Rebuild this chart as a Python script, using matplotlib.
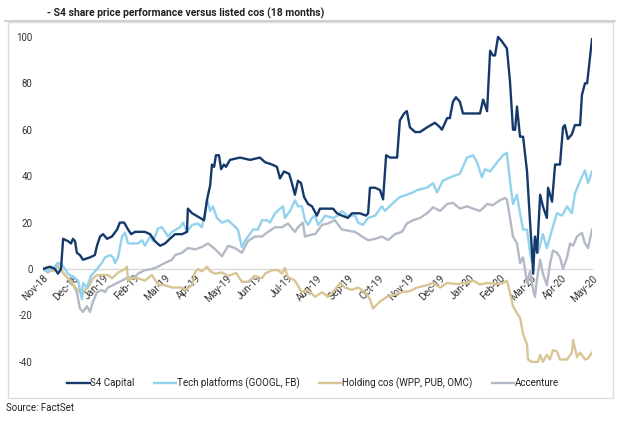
import matplotlib
matplotlib.use("Agg")
import matplotlib.pyplot as plt
from matplotlib.patches import Rectangle
from matplotlib.lines import Line2D

plt.rcParams['font.family'] = ['Roboto', 'DejaVu Sans']

title = "- S4 share price performance versus listed cos (18 months)"
source = "Source: FactSet"
month_labels = ["Nov-18", "Dec-18", "Jan-19", "Feb-19", "Mar-19", "Apr-19", "May-19",
                "Jun-19", "Jul-19", "Aug-19", "Sep-19", "Oct-19", "Nov-19", "Dec-19",
                "Jan-20", "Feb-20", "Mar-20", "Apr-20", "May-20"]
y_ticks = [-40, -20, 0, 20, 40, 60, 80, 100]
series_names = ["S4 Capital", "Tech platforms (GOOGL, FB)",
                "Holding cos (WPP, PUB, OMC)", "Accenture"]

s4_t = [0.00, 0.23, 0.39, 0.49, 0.59, 0.66, 0.82, 0.92, 0.98, 1.05, 1.11, 1.21, 1.31, 1.54, 1.70,
        1.77, 1.87, 1.97, 2.10, 2.26, 2.43, 2.52, 2.66, 2.79, 2.89, 3.02, 3.34, 3.51, 3.67, 3.84,
        4.00, 4.16, 4.33, 4.56, 4.72, 4.75, 4.89, 5.02, 5.15, 5.28, 5.38, 5.48, 5.54, 5.61, 5.67,
        5.77, 5.84, 5.93, 6.00, 6.13, 6.46, 6.79, 7.11, 7.28, 7.51, 7.67, 7.77, 7.90, 8.07, 8.16,
        8.26, 8.36, 8.46, 8.56, 8.69, 8.82, 8.98, 9.08, 9.25, 9.51, 9.64, 9.80, 10.00, 10.13, 10.39,
        10.59, 10.66, 10.72, 10.89, 11.05, 11.15, 11.25, 11.38, 11.61, 11.70, 11.84, 11.93, 12.03,
        12.20, 12.36, 12.59, 12.85, 13.02, 13.08, 13.25, 13.34, 13.44, 13.54, 13.67, 13.77, 14.00,
        14.33, 14.43, 14.56, 14.66, 14.75, 14.82, 14.92, 15.05, 15.21, 15.31, 15.41, 15.48, 15.54,
        15.64, 15.74, 15.87, 15.97, 16.03, 16.07, 16.13, 16.20, 16.30, 16.39, 16.52, 16.56, 16.69,
        16.79, 16.95, 17.05, 17.11, 17.21, 17.34, 17.44, 17.61, 17.67, 17.77, 17.84, 18.00]
s4_v = [0, 1, 0, -2, 0, 13, 12, 11, 13, 12, 7, 6, 4, 5, 6,
        10, 14, 15, 13, 14, 17, 20, 20, 17, 15, 16, 16, 15, 12, 10,
        11, 13, 15, 15, 16, 26, 24, 23, 22, 21, 30, 36, 45, 44, 49,
        49, 43, 45, 44, 47, 48, 47, 48, 46, 45, 44, 39, 42, 41, 37,
        32, 38, 37, 31, 28, 27, 23, 26, 26, 26, 24, 23, 22, 24, 24,
        23, 24, 35, 35, 34, 30, 49, 48, 48, 64, 67, 68, 61,
        59, 59, 61, 63, 61, 60, 65, 65, 72, 74, 72, 67, 67,
        67, 73, 68, 94, 92, 92, 100, 98, 95, 81, 60, 60, 70,
        57, 57, 42, 20, 8, -2, 14, 7, 32, 27, 22, 35, 29,
        45, 45, 61, 62, 56, 58, 62, 62, 75, 80, 80, 99]

tech_t = [0.00, 0.16, 0.39, 0.49, 0.62, 0.82, 1.15, 1.28, 1.31, 1.44, 1.57, 1.77, 1.93, 2.03, 2.20,
          2.30, 2.36, 2.46, 2.59, 2.69, 2.79, 3.11, 3.25, 3.34, 3.51, 3.61, 3.77, 3.90, 4.00, 4.10,
          4.23, 4.49, 4.59, 4.72, 4.89, 5.08, 5.21, 5.31, 5.38, 5.48, 5.57, 5.70, 5.87, 6.07, 6.23,
          6.39, 6.52, 6.62, 6.72, 6.89, 7.05, 7.18, 7.34, 7.44, 7.61, 7.77, 7.87, 7.93, 8.10, 8.26,
          8.36, 8.49, 8.59, 8.69, 8.82, 8.92, 9.02, 9.15, 9.25, 9.51, 9.67, 9.80, 9.97, 10.23, 10.33,
          10.49, 10.66, 10.89, 11.05, 11.11, 11.21, 11.44, 11.70, 11.93, 12.13, 12.26, 12.59, 12.79,
          12.92, 13.11, 13.44, 13.67, 13.90, 14.10, 14.23, 14.39, 14.49, 14.66, 14.89, 15.08, 15.21,
          15.31, 15.41, 15.54, 15.64, 15.74, 15.87, 15.97, 16.03, 16.13, 16.23, 16.39, 16.52, 16.69,
          16.85, 17.02, 17.18, 17.34, 17.44, 17.61, 17.77, 17.87, 18.00]
tech_v = [0, -1, 1, 2.6, 2, -2, -5, -13, -6, -8, -3, 0, 2.6, 5, 6,
          5, 2.6, 5, 14, 15.6, 11, 11, 12.4, 10, 14, 12, 17.5, 18, 16, 14,
          16, 18, 20, 16, 19, 19.6, 18, 24, 30, 25, 27, 22, 20, 21, 19,
          17, 9.4, 12, 14, 17, 17, 21, 21, 20, 24, 26, 27, 22, 25, 29.6,
          27, 27, 21, 19, 22, 23, 19, 21, 23, 22, 23, 25, 23, 23, 20,
          19, 22, 23, 26, 27, 25, 28, 31, 32, 33, 34, 35, 37,
          33, 38, 40, 41, 48, 49, 46, 39.5, 43, 42, 46, 49, 50,
          38, 28, 32, 24, 17, 17, 7, 3, 13, 7, 15, 9, 17,
          24, 23, 27, 24, 32.6, 38, 42.5, 37, 42]

hold_t = [0.00, 0.16, 0.33, 0.46, 0.62, 0.82, 1.05, 1.28, 1.38, 1.48, 1.64, 1.77, 2.13, 2.26, 2.46,
          2.69, 2.75, 2.79, 2.92, 3.11, 3.34, 3.57, 3.77, 4.00, 4.23, 4.56, 4.66, 4.89, 4.98, 5.08,
          5.21, 5.38, 5.48, 5.64, 5.87, 6.07, 6.33, 6.52, 6.72, 6.95, 7.18, 7.28, 7.51, 7.70, 7.84,
          7.93, 8.03, 8.26, 8.49, 8.69, 8.92, 9.15, 9.34, 9.57, 9.74, 9.90, 10.13, 10.33, 10.56,
          10.72, 10.82, 11.05, 11.28, 11.54, 11.77, 12.03, 12.26, 12.59, 12.79, 13.02, 13.25, 13.57,
          13.90, 14.10, 14.33, 14.56, 14.89, 15.08, 15.21, 15.31, 15.41, 15.54, 15.64, 15.74, 15.87,
          15.90, 16.03, 16.23, 16.30, 16.39, 16.52, 16.62, 16.72, 16.85, 16.95, 17.18, 17.34, 17.38,
          17.51, 17.61, 17.77, 17.87, 18.00]
hold_v = [0, 1, -1, 2, -1, -4, -7.7, -11, -9, -8, -4, -2.6, -2.6, -4, -1.6,
          0, 1, -5, -4, -4, -5, -2.6, -6.6, -7, -8, -8, -9, -7, -1.5, 0,
          -1, 1, -1, -2, -1.5, -3, -1.7, -5.5, -5.5, -3, -4, -2, -0.5, -0.5, -2,
          0.5, -3.5, -5, -10, -9, -12, -10, -12, -9, -6, -8, -9, -8, -10,
          -13, -17, -14, -12, -11, -10, -9.5, -8, -7, -6, -8, -6, -6.5,
          -6, -5, -6.7, -6, -6.5, -6, -5, -10, -16, -19, -21, -28, -32.6,
          -39, -40, -40, -37, -40, -37, -39, -35, -35.5, -39, -39, -36, -30.6,
          -38, -36, -39, -38.5, -36]

acn_t = [0.00, 0.16, 0.33, 0.49, 0.72, 0.95, 1.11, 1.21, 1.31, 1.44, 1.54, 1.64, 1.77, 1.93, 2.03,
         2.13, 2.36, 2.59, 2.79, 3.02, 3.11, 3.34, 3.57, 3.77, 4.00, 4.23, 4.33, 4.56, 4.75, 5.00,
         5.21, 5.41, 5.64, 5.87, 6.07, 6.30, 6.52, 6.72, 6.95, 7.18, 7.38, 7.61, 7.84, 8.03, 8.26,
         8.36, 8.52, 8.59, 8.85, 8.92, 9.15, 9.34, 9.57, 9.80, 10.00, 10.23, 10.46, 10.66, 10.89,
         11.11, 11.31, 11.54, 11.77, 11.93, 12.13, 12.36, 12.59, 12.79, 13.02, 13.25, 13.44, 13.67,
         13.90, 14.10, 14.33, 14.56, 14.75, 14.98, 15.15, 15.21, 15.31, 15.41, 15.54, 15.64, 15.74,
         15.87, 15.97, 16.07, 16.13, 16.20, 16.30, 16.39, 16.52, 16.62, 16.72, 16.85, 16.95, 17.05,
         17.18, 17.28, 17.38, 17.51, 17.67, 17.77, 17.87, 18.00]
acn_v = [0, -1.5, 0, 1, -2.6, -5.6, -10, -17, -18.5, -16, -18.5, -14, -10, -9, -10,
         -8, -6.5, -5, -3.6, -3.6, -2, -0.5, 0, 1, 2.6, 4, 6, 7, 9, 8.5,
         9.5, 11, 8.6, 5.5, 10, 9, 7, 12, 14, 14, 16, 18, 18, 19.6, 16,
         18, 20, 14, 15, 15, 19, 19.6, 21, 17, 16.5, 16, 14, 12.4, 13,
         14, 12.5, 15, 16, 19.6, 21, 22, 24, 26.6, 25, 28, 28.5, 26,
         27, 26, 25, 28, 27.5, 29.6, 30.6, 30, 22, 14, 11, 2.6, 5,
         -6, -1, -9, -12, -4, 4, -2, -7, 2, 8, 7, 5, 0,
         5, 11, 10, 14, 15.6, 11, 9, 17]

colors = ["#14396a", "#92d2ec", "#d7c594", "#b3b9c6"]

W, H = 630, 422
fig = plt.figure(figsize=(W / 100, H / 100), dpi=100)

fig.add_artist(Rectangle((8 / W, 1 - 398 / H), (613 - 8) / W, (398 - 22) / H,
                         transform=fig.transFigure, fill=False, edgecolor="#dcdcdc", lw=1))
fig.add_artist(Line2D([5 / W, 615 / W], [1 - 21 / H, 1 - 21 / H],
                      transform=fig.transFigure, color="#c8c8c8", lw=1.2))

ymin, ymax = -45, 105
px_per = 2.3214
top_px = 269 - ymax * px_per
bot_px = 269 - ymin * px_per
ax = fig.add_axes([43 / W, 1 - bot_px / H, (592 - 43) / W, (bot_px - top_px) / H])
ax.patch.set_alpha(0)

data = [(s4_t, s4_v), (tech_t, tech_v), (hold_t, hold_v), (acn_t, acn_v)]
lines = {}
for i in [3, 2, 1, 0]:
    t, v = data[i]
    ln, = ax.plot(t, v, color=colors[i], lw=1.7, solid_joinstyle="round", label=series_names[i])
    lines[i] = ln

ax.set_xlim(0, 18)
ax.set_ylim(ymin, ymax)
for s in ["top", "right", "left"]:
    ax.spines[s].set_visible(False)
ax.spines["bottom"].set_position(("data", 0))
ax.spines["bottom"].set_color("#d9d9d9")
ax.spines["bottom"].set_linewidth(1)
ax.spines["bottom"].set_zorder(0)

ax.set_yticks(y_ticks)
ax.set_yticklabels([str(v) for v in y_ticks])
ax.tick_params(axis="y", length=0, pad=7.5, labelsize=7, labelcolor="#333333")
ax.set_xticks(range(len(month_labels)))
ax.set_xticklabels(month_labels, rotation=45, ha="right", rotation_mode="anchor")
ax.tick_params(axis="x", length=0, pad=3, labelsize=7.2, labelcolor="#333333")

fig.text(47 / W, 1 - 13 / H, title, fontsize=7.5, fontweight="bold", color="#222222",
         va="center", ha="left")
fig.text(6 / W, 1 - 408 / H, source, fontsize=7, color="#222222", va="center", ha="left")

handles = [lines[i] for i in range(4)]
fig.legend(handles, series_names, loc="center", bbox_to_anchor=(313 / W, 1 - 383 / H),
           ncol=4, frameon=False, fontsize=7, handlelength=2.3, handletextpad=0.05,
           columnspacing=2.0, labelcolor="#222222")

fig.savefig("out.png", dpi=100)
